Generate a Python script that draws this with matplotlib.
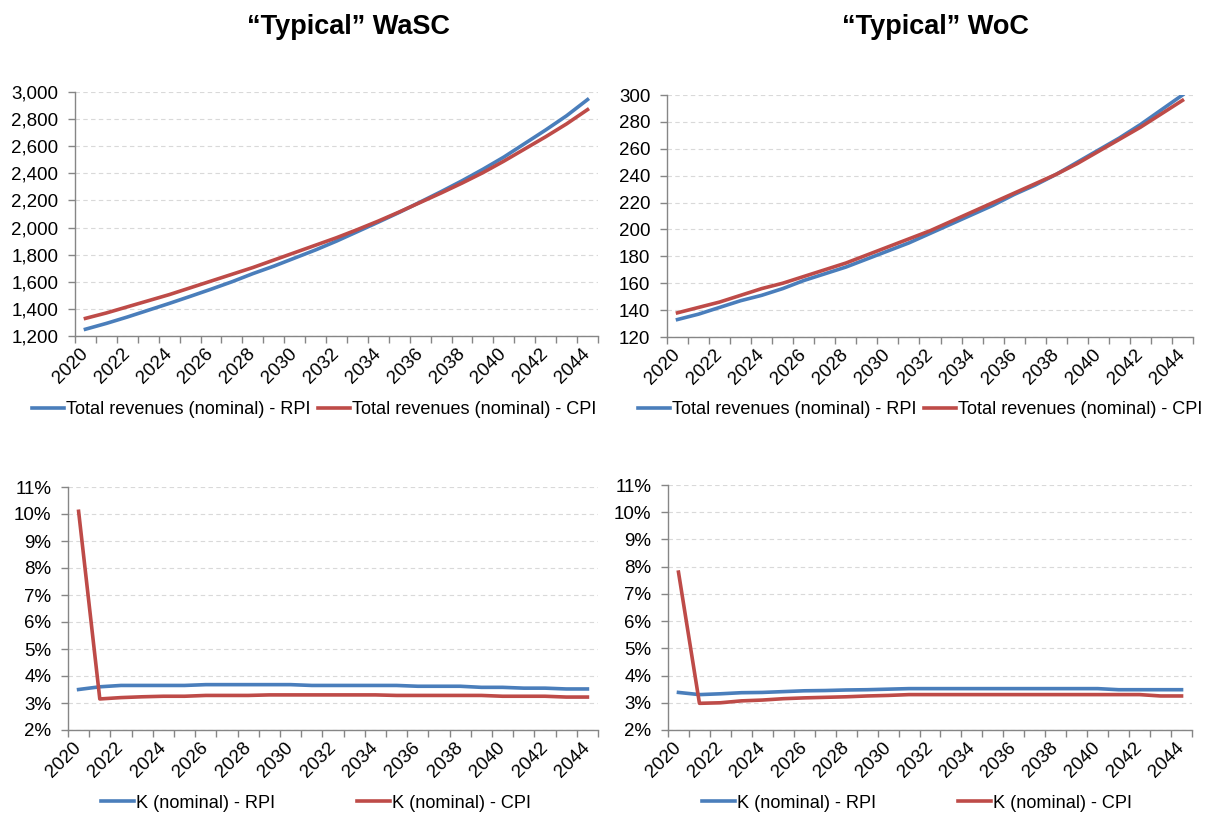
import matplotlib
matplotlib.use("Agg")
import matplotlib.pyplot as plt
from matplotlib.lines import Line2D
from matplotlib.ticker import FuncFormatter, FixedLocator
import numpy as np

plt.rcParams['font.family'] = ['Liberation Sans', 'DejaVu Sans']

years = list(range(2020, 2045))

wasc_rev_rpi = [1250, 1293, 1340, 1390, 1440, 1492, 1545, 1600, 1660, 1715, 1775, 1835,
                1900, 1970, 2040, 2112, 2188, 2265, 2345, 2430, 2520, 2620, 2720, 2825, 2944]
wasc_rev_cpi = [1330, 1370, 1415, 1460, 1505, 1555, 1605, 1655, 1705, 1760, 1815, 1870,
                1925, 1985, 2048, 2115, 2185, 2255, 2328, 2405, 2490, 2580, 2670, 2765, 2870]

woc_rev_rpi = [133, 137, 142, 147, 151, 156, 162, 167, 172, 178, 184, 190, 197, 204,
               211, 218, 226, 233, 241, 250, 259, 268, 278, 289, 300]
woc_rev_cpi = [138, 142, 146, 151, 156, 160, 165, 170, 175, 181, 187, 193, 199, 206,
               213, 220, 227, 234, 241, 249, 258, 267, 276, 286, 296]

wasc_k_rpi = [3.50, 3.60, 3.65, 3.65, 3.65, 3.65, 3.68, 3.68, 3.68, 3.68, 3.68, 3.65, 3.65,
              3.65, 3.65, 3.65, 3.62, 3.62, 3.62, 3.58, 3.58, 3.55, 3.55, 3.52, 3.52]
wasc_k_cpi = [10.10, 3.15, 3.20, 3.23, 3.25, 3.25, 3.28, 3.28, 3.28, 3.30, 3.30, 3.30, 3.30,
              3.30, 3.30, 3.28, 3.28, 3.28, 3.28, 3.28, 3.25, 3.25, 3.25, 3.22, 3.22]

woc_k_rpi = [3.38, 3.30, 3.33, 3.37, 3.38, 3.41, 3.44, 3.45, 3.47, 3.48, 3.50, 3.52, 3.52,
             3.52, 3.52, 3.52, 3.52, 3.52, 3.52, 3.52, 3.52, 3.48, 3.48, 3.48, 3.48]
woc_k_cpi = [7.80, 2.98, 3.00, 3.07, 3.10, 3.15, 3.18, 3.20, 3.22, 3.25, 3.27, 3.30, 3.30,
             3.30, 3.30, 3.30, 3.30, 3.30, 3.30, 3.30, 3.30, 3.30, 3.30, 3.25, 3.25]

titles = ["\u201cTypical\u201d WaSC", "\u201cTypical\u201d WoC"]
rev_labels = ["Total revenues (nominal) - RPI", "Total revenues (nominal) - CPI"]
k_labels = ["K (nominal) - RPI", "K (nominal) - CPI"]

BLUE = "#4A7EBB"
RED = "#BE4B48"
AXC = "#868686"
GRID = "#D9D9D9"
FS = 13.5
LFS = 13.1

W, H = 1209, 815
fig = plt.figure(figsize=(W / 100, H / 100), dpi=100)


def make_axes(x0, x1, y0, y1):
    return fig.add_axes([x0 / W, 1 - y1 / H, (x1 - x0) / W, (y1 - y0) / H])


def style(ax, ymin, ymax, ystep, fmt):
    n = len(years)
    x = np.arange(n)
    ax.set_xlim(-0.5, n - 0.5)
    ax.set_ylim(ymin, ymax)
    ax.set_yticks(np.arange(ymin, ymax + ystep / 2, ystep))
    ax.yaxis.set_major_formatter(FuncFormatter(fmt))
    ax.set_xticks(x[::2])
    ax.set_xticklabels([str(y) for y in years[::2]], rotation=45, ha='right',
                       rotation_mode='anchor', va='center')
    ax.xaxis.set_minor_locator(FixedLocator(np.arange(-0.5, n, 1.0)))
    ax.tick_params(axis='x', which='major', length=0, pad=11, labelsize=FS, colors='black')
    ax.tick_params(axis='x', which='minor', length=5, color=AXC, width=1)
    ax.tick_params(axis='y', which='major', length=5, color=AXC, width=1, labelsize=FS, pad=7)
    for s in ['top', 'right']:
        ax.spines[s].set_visible(False)
    for s in ['left', 'bottom']:
        ax.spines[s].set_color(AXC)
        ax.spines[s].set_linewidth(1)
    ax.grid(axis='y', color=GRID, linestyle=(0, (4, 3)), linewidth=0.8)
    ax.set_axisbelow(True)
    return x


def legend(cx, cy, labels, spacing):
    handles = [Line2D([], [], color=BLUE, lw=2.6), Line2D([], [], color=RED, lw=2.6)]
    fig.legend(handles, labels, loc='center', bbox_to_anchor=(cx / W, 1 - cy / H),
               ncol=2, frameon=False, fontsize=LFS, handlelength=1.8,
               handletextpad=0.1, columnspacing=spacing, borderaxespad=0, borderpad=0)


thousands = lambda v, p: f"{v:,.0f}"
plain = lambda v, p: f"{v:.0f}"
pct = lambda v, p: f"{v:.0f}%"

# Top-left
ax = make_axes(75, 598, 92, 336)
x = style(ax, 1200, 3000, 200, thousands)
ax.plot(x, wasc_rev_rpi, color=BLUE, lw=2.6)
ax.plot(x, wasc_rev_cpi, color=RED, lw=2.6)
legend(314, 410, rev_labels, 0.38)

# Top-right
ax = make_axes(667, 1193, 95, 337)
x = style(ax, 120, 300, 20, plain)
ax.plot(x, woc_rev_rpi, color=BLUE, lw=2.6)
ax.plot(x, woc_rev_cpi, color=RED, lw=2.6)
legend(920, 410, rev_labels, 0.38)

# Bottom-left
ax = make_axes(68, 598, 487, 730)
x = style(ax, 2, 11, 1, pct)
ax.plot(x, wasc_k_rpi, color=BLUE, lw=2.6)
ax.plot(x, wasc_k_cpi, color=RED, lw=2.6)
legend(316, 803, k_labels, 4.5)

# Bottom-right
ax = make_axes(668, 1192, 485, 730)
x = style(ax, 2, 11, 1, pct)
ax.plot(x, woc_k_rpi, color=BLUE, lw=2.6)
ax.plot(x, woc_k_cpi, color=RED, lw=2.6)
legend(917, 803, k_labels, 4.5)

fig.text(348 / W, 1 - 27 / H, titles[0], ha='center', va='center', fontsize=19.5, fontweight='bold')
fig.text(935 / W, 1 - 27 / H, titles[1], ha='center', va='center', fontsize=19.5, fontweight='bold')

fig.savefig("out.png", dpi=100, facecolor='white')
